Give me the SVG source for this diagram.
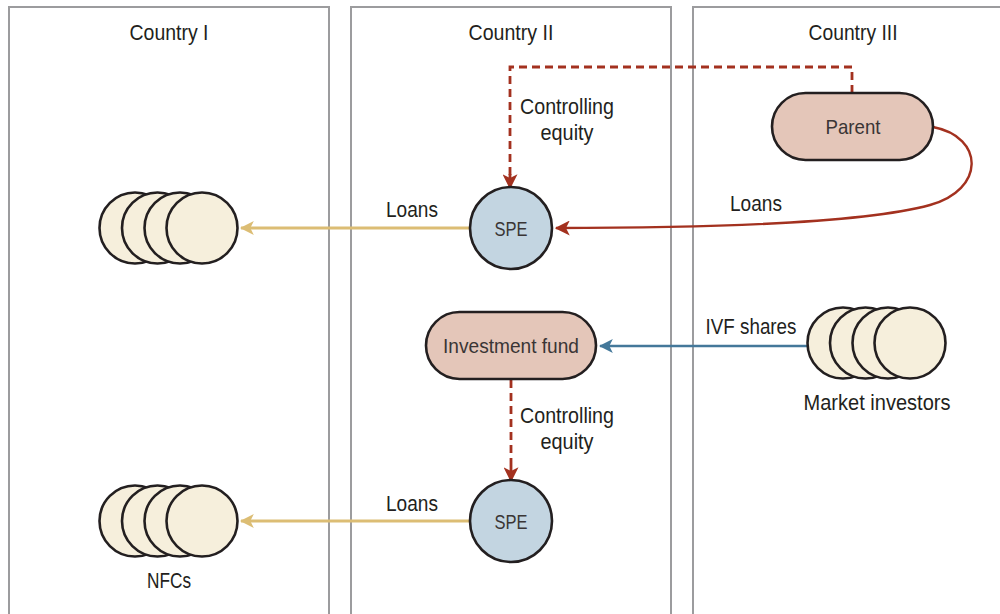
<svg xmlns="http://www.w3.org/2000/svg" width="1000" height="614" viewBox="0 0 1000 614">
  <style>
    .panel { fill: #ffffff; stroke: #9c9c9e; stroke-width: 2; }
    .lbl { font-family: "Liberation Sans", Arial, sans-serif; font-size: 22.5px; fill: #231f20; text-anchor: middle; }
    .in { fill: #3a3535; font-size: 21px; }
    .ent { stroke: #231f20; stroke-width: 2.6; }
    .spe { fill: #c3d5e1; }
    .org { fill: #e4c6b9; }
    .grp { fill: #f6efdc; }
    .ctl { fill: none; stroke: #a3311f; stroke-width: 2.8; stroke-dasharray: 8 5; }
    .solidRed { fill: none; stroke: #a3311f; stroke-width: 2.8; }
    .loanR { fill: none; stroke: #a3311f; stroke-width: 2.4; }
    .loanG { fill: none; stroke: #dcbd74; stroke-width: 3; }
    .shr { fill: none; stroke: #44789a; stroke-width: 2.6; }
  </style>
  <defs>
    <marker id="ahRed" viewBox="0 0 12 12" refX="11" refY="6" markerWidth="15" markerHeight="15" markerUnits="userSpaceOnUse" orient="auto">
      <path d="M0,0 L12,6 L0,12 L3,6 Z" fill="#a3311f"/>
    </marker>
    <marker id="ahGold" viewBox="0 0 12 12" refX="11" refY="6" markerWidth="14" markerHeight="14" markerUnits="userSpaceOnUse" orient="auto">
      <path d="M0,0 L12,6 L0,12 L3,6 Z" fill="#dcbd74"/>
    </marker>
    <marker id="ahBlue" viewBox="0 0 12 12" refX="11" refY="6" markerWidth="14" markerHeight="14" markerUnits="userSpaceOnUse" orient="auto">
      <path d="M0,0 L12,6 L0,12 L3,6 Z" fill="#44789a"/>
    </marker>
  </defs>

  <rect width="1000" height="614" fill="#ffffff"/>

  <!-- country panels -->
  <g id="country-1">
    <rect class="panel" x="9" y="7" width="320" height="620"/>
    <text class="lbl" x="169" y="40" textLength="79" lengthAdjust="spacingAndGlyphs">Country I</text>
  </g>
  <g id="country-2">
    <rect class="panel" x="351" y="7" width="320" height="620"/>
    <text class="lbl" x="511" y="40" textLength="85" lengthAdjust="spacingAndGlyphs">Country II</text>
  </g>
  <g id="country-3">
    <rect class="panel" x="693" y="7" width="320" height="620"/>
    <text class="lbl" x="853" y="40" textLength="89" lengthAdjust="spacingAndGlyphs">Country III</text>
  </g>

  <!-- connectors -->
  <g id="connectors">
    <path class="ctl" d="M852,93 V67 H510 V176" />
    <path class="solidRed" d="M510,174 L510,188" marker-end="url(#ahRed)"/>
    <path class="loanR" d="M933,127 C985,137 985,190 930,205 C860,224 700,228 556,228" marker-end="url(#ahRed)"/>
    <path class="loanG" d="M470,228 H241" marker-end="url(#ahGold)"/>
    <path class="shr" d="M807,346 H600" marker-end="url(#ahBlue)"/>
    <path class="ctl" d="M511,380 V468" />
    <path class="solidRed" d="M511,466 L511,481" marker-end="url(#ahRed)"/>
    <path class="loanG" d="M470,521 H241" marker-end="url(#ahGold)"/>

    <text class="lbl" x="567" y="114" textLength="94" lengthAdjust="spacingAndGlyphs">Controlling</text>
    <text class="lbl" x="567" y="140" textLength="53" lengthAdjust="spacingAndGlyphs">equity</text>
    <text class="lbl" x="756" y="211" textLength="52" lengthAdjust="spacingAndGlyphs">Loans</text>
    <text class="lbl" x="412" y="217" textLength="52" lengthAdjust="spacingAndGlyphs">Loans</text>
    <text class="lbl" x="751" y="334" textLength="91" lengthAdjust="spacingAndGlyphs">IVF shares</text>
    <text class="lbl" x="567" y="423" textLength="94" lengthAdjust="spacingAndGlyphs">Controlling</text>
    <text class="lbl" x="567" y="449" textLength="53" lengthAdjust="spacingAndGlyphs">equity</text>
    <text class="lbl" x="412" y="511" textLength="52" lengthAdjust="spacingAndGlyphs">Loans</text>
  </g>

  <!-- entities -->
  <g id="parent">
    <rect class="ent org" x="772" y="93" width="161" height="67" rx="33.5"/>
    <text class="lbl in" x="853" y="134" textLength="55" lengthAdjust="spacingAndGlyphs">Parent</text>
  </g>
  <g id="spe-top">
    <circle class="ent spe" cx="511" cy="228" r="41"/>
    <text class="lbl in" x="511" y="236" textLength="33" lengthAdjust="spacingAndGlyphs">SPE</text>
  </g>
  <g id="nfcs-top">
    <circle class="ent grp" cx="135" cy="228" r="35.5"/>
    <circle class="ent grp" cx="157.5" cy="228" r="35.5"/>
    <circle class="ent grp" cx="180" cy="228" r="35.5"/>
    <circle class="ent grp" cx="202" cy="228" r="35.5"/>
  </g>
  <g id="investment-fund">
    <rect class="ent org" x="426" y="312" width="170" height="67" rx="33.5"/>
    <text class="lbl in" x="511" y="353" textLength="136" lengthAdjust="spacingAndGlyphs">Investment fund</text>
  </g>
  <g id="market-investors">
    <circle class="ent grp" cx="843" cy="343" r="35.5"/>
    <circle class="ent grp" cx="865.5" cy="343" r="35.5"/>
    <circle class="ent grp" cx="888" cy="343" r="35.5"/>
    <circle class="ent grp" cx="910" cy="343" r="35.5"/>
    <text class="lbl" x="877" y="410" textLength="147" lengthAdjust="spacingAndGlyphs">Market investors</text>
  </g>
  <g id="spe-bottom">
    <circle class="ent spe" cx="511" cy="521" r="41"/>
    <text class="lbl in" x="511" y="529" textLength="33" lengthAdjust="spacingAndGlyphs">SPE</text>
  </g>
  <g id="nfcs-bottom">
    <circle class="ent grp" cx="135" cy="521" r="35.5"/>
    <circle class="ent grp" cx="157.5" cy="521" r="35.5"/>
    <circle class="ent grp" cx="180" cy="521" r="35.5"/>
    <circle class="ent grp" cx="202" cy="521" r="35.5"/>
    <text class="lbl" x="169" y="588" textLength="44" lengthAdjust="spacingAndGlyphs">NFCs</text>
  </g>
</svg>
